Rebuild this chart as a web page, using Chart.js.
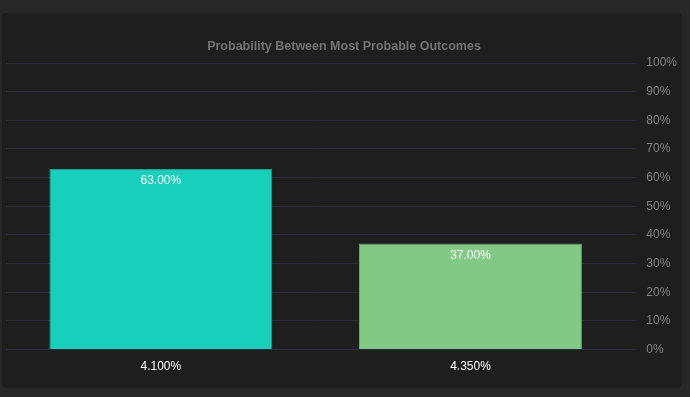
<!DOCTYPE html>
<html>
<head>
<meta charset="utf-8">
<script src="https://cdn.jsdelivr.net/npm/chart.js@4/dist/chart.umd.min.js"></script>
<style>
  html, body { margin: 0; padding: 0; background: #282828; }
  #card {
    position: absolute; left: 2px; top: 13px; width: 680px; height: 375px;
    background: #1e1e1e; border-radius: 4px;
  }
</style>
</head>
<body>
<div id="card"><canvas id="outcomes"></canvas></div>
<script>
const outcomes = ['4.100%', '4.350%'];
const probability = [63, 37];
const barColors = ['#17cfba', '#82c985'];
const barBorders = ['#1d9e8f', '#5fa865'];
const yTicks = [0, 10, 20, 30, 40, 50, 60, 70, 80, 90, 100];

Chart.defaults.font.family = 'Helvetica, Arial, "Liberation Sans", sans-serif';

// white value label near the top of each bar
const barValues = {
  id: 'barValues',
  afterDatasetsDraw(chart) {
    const c = chart.ctx;
    const meta = chart.getDatasetMeta(0);
    c.save();
    c.fillStyle = '#ffffff';
    c.font = '12px Helvetica, Arial, "Liberation Sans", sans-serif';
    c.textAlign = 'center';
    c.textBaseline = 'middle';
    meta.data.forEach((bar, i) => {
      c.fillText(probability[i].toFixed(2) + '%', bar.x, bar.y + 12);
    });
    c.restore();
  }
};

const ctx = document.getElementById('outcomes').getContext('2d');
ctx.canvas.width = 680;
ctx.canvas.height = 375;

new Chart(ctx, {
  type: 'bar',
  data: {
    labels: outcomes,
    datasets: [{
      data: probability,
      backgroundColor: barColors,
      borderColor: barBorders,
      borderWidth: 1
    }]
  },
  options: {
    responsive: false,
    animation: false,
    layout: { padding: { left: 4, right: 0, top: 1, bottom: 12 } },
    plugins: {
      legend: { display: false },
      tooltip: { enabled: false },
      title: {
        display: true,
        text: 'Probability Between Most Probable Outcomes',
        color: '#737373',
        font: { size: 12.5, weight: 'bold' },
        padding: { top: 25, bottom: 9 }
      }
    },
    scales: {
      x: {
        grid: { display: false },
        border: { display: false },
        ticks: { color: '#ffffff', font: { size: 12 }, padding: 2 }
      },
      y: {
        position: 'right',
        min: 0,
        max: 100,
        afterBuildTicks(axis) { axis.ticks = yTicks.map(v => ({ value: v })); },
        afterFit(axis) { axis.width -= 5; },
        border: { display: false },
        grid: { color: '#2c2a3c', tickLength: 11 },
        ticks: {
          color: '#828282',
          font: { size: 12 },
          padding: 10,
          callback: v => v + '%'
        }
      }
    }
  },
  plugins: [barValues]
});
</script>
</body>
</html>
